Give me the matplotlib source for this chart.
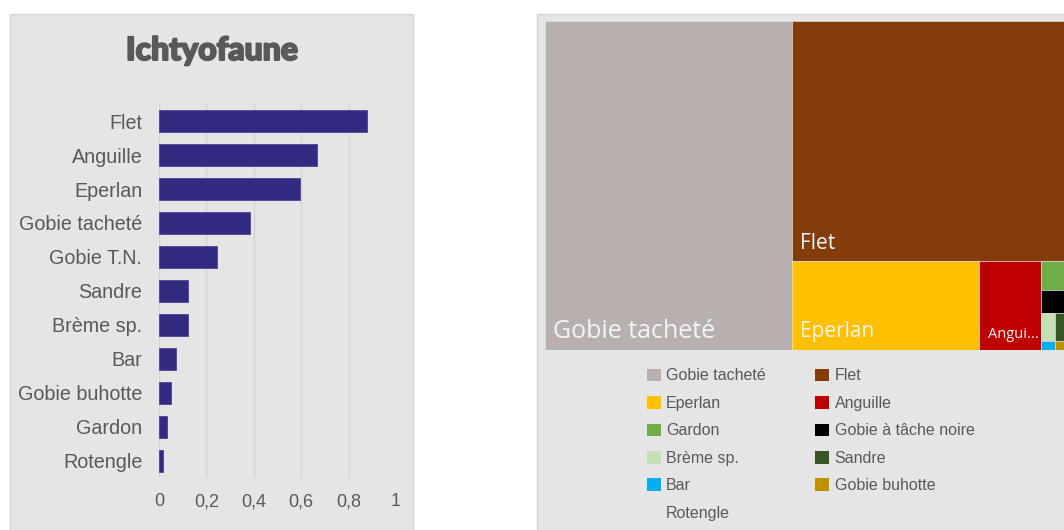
import matplotlib.pyplot as plt
import matplotlib.patheffects as pe
from matplotlib.patches import Rectangle, Patch

# Frequency of occurrence per species (bar chart)
species = ['Flet', 'Anguille', 'Eperlan', 'Gobie tacheté', 'Gobie T.N.', 'Sandre',
           'Brème sp.', 'Bar', 'Gobie buhotte', 'Gardon', 'Rotengle']
frequency = [0.876, 0.667, 0.595, 0.385, 0.246, 0.121, 0.121, 0.07, 0.052, 0.034, 0.017]

# Share of individuals per species, % (treemap)
tm_species = ['Gobie tacheté', 'Flet', 'Eperlan', 'Anguille', 'Gardon',
              'Gobie à tâche noire', 'Brème sp.', 'Sandre', 'Bar', 'Gobie buhotte', 'Rotengle']
tm_share = [47.16, 38.57, 9.66, 3.15, 0.48, 0.38, 0.228, 0.226, 0.075, 0.075, 0.0]
tm_colors = ['#B8B0AE', '#843C0C', '#FFC000', '#C00000', '#70AD47',
             '#000000', '#C5E0B4', '#375623', '#00B0F0', '#BF9000', 'none']

W, H = 1064, 530
TEXT = '#595959'
PANEL = '#E5E5E5'


def worst(row, side):
    s = sum(row)
    return max(max(s * s / (side * side * r), side * side * r / (s * s)) for r in row)


def squarify(values, x, y, w, h):
    rects = []
    vals = list(values)
    while vals:
        side = min(w, h)
        row = [vals.pop(0)]
        while vals and worst(row + [vals[0]], side) <= worst(row, side):
            row.append(vals.pop(0))
        s = sum(row)
        if w >= h:
            # column on the left, filled top-down
            cw = s / h
            yy = y + h
            for r in row:
                rh = r / cw
                yy -= rh
                rects.append((x, yy, cw, rh))
            x += cw
            w -= cw
        else:
            # row along the top, filled left to right
            rh = s / w
            xx = x
            for r in row:
                rw = r / rh
                rects.append((xx, y + h - rh, rw, rh))
                xx += rw
            h -= rh
    return rects


fig = plt.figure(figsize=(W / 100, H / 100), dpi=100)
fig.patch.set_facecolor('white')

# panel backgrounds
fig.patches.append(Rectangle((10 / W, -0.01), 403 / W, (H - 14) / H + 0.01,
                             transform=fig.transFigure, fc=PANEL, ec='#D6D6D6',
                             lw=1, zorder=-10))
fig.patches.append(Rectangle((537 / W, -0.01), 0.6, (H - 14) / H + 0.01,
                             transform=fig.transFigure, fc=PANEL, ec='#D6D6D6',
                             lw=1, zorder=-10))

# --- bar chart ---
ax = fig.add_axes([159 / W, (H - 478) / H, 237 / W, 374 / H])
ax.set_facecolor('none')
pos = list(range(len(species)))
ax.barh(pos, frequency, height=0.64, color='#332A82', edgecolor='#4B4395',
        linewidth=0.6, zorder=3)
ax.set_xlim(0, 1)
ax.set_ylim(len(species) - 0.5, -0.5)
ax.set_xticks([0, 0.2, 0.4, 0.6, 0.8, 1])
ax.set_xticklabels(['0', '0,2', '0,4', '0,6', '0,8', '1'])
ax.set_yticks(pos)
ax.set_yticklabels(species)
ax.tick_params(axis='y', length=0, pad=12, labelsize=14.2, labelcolor=TEXT)
ax.tick_params(axis='x', length=0, pad=11, labelsize=13, labelcolor=TEXT)
for lab in ax.get_xticklabels() + ax.get_yticklabels():
    lab.set_fontfamily('Liberation Sans')
ax.grid(axis='x', color='#D4D4D4', linewidth=1, zorder=0)
for sp in ax.spines.values():
    sp.set_visible(False)

fig.text(212 / W, 1 - 60 / H, 'Ichtyofaune', ha='center', va='baseline',
         fontsize=23, fontweight='black', family='Lato', color=TEXT,
         path_effects=[pe.withStroke(linewidth=1.4, foreground=TEXT)])

# --- treemap ---
TW, TH = 524, 329
tx = fig.add_axes([545 / W, (H - 350) / H, TW / W, TH / H])
tx.set_xlim(0, TW)
tx.set_ylim(0, TH)
tx.axis('off')

total = sum(tm_share)
areas = [v / total * TW * TH for v in tm_share if v > 0]
rects = squarify(areas, 0, 0, TW, TH)
for (x0, y0, rw, rh), col in zip(rects, tm_colors):
    tx.add_patch(Rectangle((x0, y0), rw, rh, fc=col, ec=PANEL, lw=0.4))

label_sizes = [18, 15, 15, 10.5]
fig.canvas.draw()
renderer = fig.canvas.get_renderer()
for (x0, y0, rw, rh), name, fs in zip(rects, tm_species, label_sizes):
    t = tx.annotate(name, (x0, y0), xytext=(6, 9), textcoords='offset points',
                    ha='left', va='baseline', fontsize=fs, family='Open Sans',
                    color='#F4F4F4')
    # shorten the label when it overflows its tile
    text = name
    while t.get_window_extent(renderer).width > rw - 8 and len(text) > 1:
        text = text[:-1]
        t.set_text(text + '...')

handles = [Patch(fc=c, ec='none') for c in tm_colors]
order = list(range(0, len(tm_species), 2)) + list(range(1, len(tm_species), 2))
fig.legend([handles[i] for i in order], [tm_species[i] for i in order],
           ncol=2, loc='upper left', bbox_to_anchor=(647 / W, 1 - 368.5 / H),
           frameon=False, prop={'family': 'Liberation Sans', 'size': 11.5},
           labelcolor=TEXT, handlelength=0.85, handleheight=0.85,
           handletextpad=0.35, labelspacing=0.78, columnspacing=3.1,
           borderpad=0, borderaxespad=0)

fig.savefig('out.png', dpi=100)
